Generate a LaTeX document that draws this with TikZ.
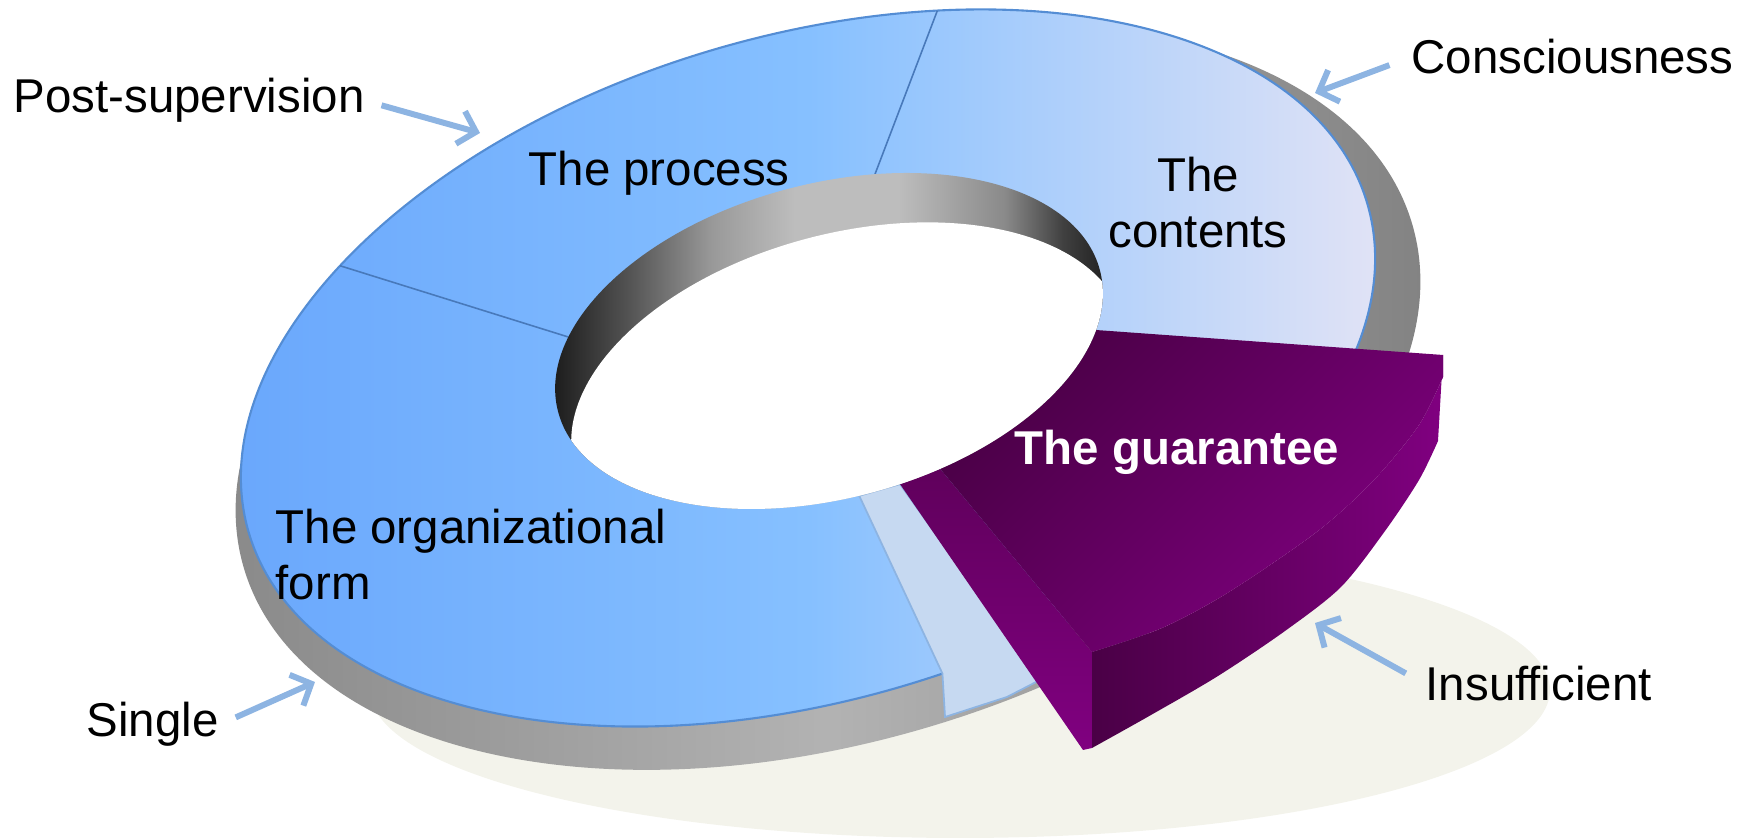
\documentclass[tikz,border=0pt]{standalone}
\usepackage{fontspec}
\setmainfont{Liberation Sans}
\usetikzlibrary{arrows.meta}

\definecolor{floorgray}{RGB}{243,243,235}
\definecolor{ringleft}{RGB}{104,166,252}
\definecolor{ringmid}{RGB}{134,192,255}
\definecolor{ringright}{RGB}{231,229,245}
\definecolor{ringedge}{RGB}{84,141,212}
\definecolor{divline}{RGB}{72,121,186}
\definecolor{paleblue}{RGB}{198,217,241}
\definecolor{paleedge}{RGB}{141,180,226}
\definecolor{plumdark}{RGB}{74,0,70}
\definecolor{plummid}{RGB}{96,0,92}
\definecolor{plum}{RGB}{128,0,128}

% inner wall of the hole: dark at both ends, light on the far side
\pgfdeclarehorizontalshading{innerwall}{100bp}{color(0bp)=(black!94); color(25bp)=(black!94);
  color(33bp)=(black!67); color(40bp)=(black!40); color(47bp)=(black!26);
  color(56bp)=(black!26); color(65bp)=(black!46); color(70bp)=(black!75);
  color(75bp)=(black!92); color(100bp)=(black!92)}

\newcommand{\lblfont}{\fontsize{13.5}{16.2}\selectfont}

\begin{document}
\begin{tikzpicture}[>={Straight Barb[length=4.6pt,width=9.6pt]},
  txt/.style={font=\lblfont, inner sep=0pt},
  pointer/.style={->, line width=1.7pt, paleedge},
  divider/.style={divline, line width=0.45pt}]
  \useasboundingbox (0,0) rectangle (17.52,8.38);

  % Floor shadow
  \fill[floorgray] (9.60,1.48) ellipse [x radius=5.90, y radius=1.48];

  % Side wall of the ring
  \shade[left color=black!47, right color=black!50, middle color=black!30,
         rotate around={16.4:(8.28,4.42)}]
    (8.28,4.42) ellipse [x radius=6.09, y radius=3.46];

  % Top face of the ring
  \shade[left color=ringleft, right color=ringright, middle color=ringmid,
         rotate around={16.4:(8.08,4.70)}]
    (8.08,4.70) ellipse [x radius=5.83, y radius=3.32];
  \draw[ringedge, line width=0.6pt, rotate around={16.4:(8.08,4.70)}]
    (8.08,4.70) ellipse [x radius=5.83, y radius=3.32];

  % Points on the outer and inner rims
  \begin{scope}[shift={(8.08,4.70)}, rotate=16.4]
    \coordinate (o1) at (67.3:5.83 and 3.32);
    \coordinate (o2) at (136.1:5.83 and 3.32);
    \coordinate (o3) at (-85.8:5.83 and 3.32);
  \end{scope}
  \begin{scope}[shift={(8.29,4.97)}, rotate=14.6]
    \coordinate (i1) at (72:2.80 and 1.575);
    \coordinate (i2) at (153.8:2.80 and 1.575);
    \coordinate (i3) at (-92:2.80 and 1.575);
    \coordinate (i4) at (-83.3:2.80 and 1.575);
    \coordinate (i5) at (-74.4:2.80 and 1.575);
    \coordinate (i6) at (-21.1:2.80 and 1.575);
  \end{scope}

  % Slice borders
  \draw[divider] (o1) -- (i1);
  \draw[divider] (o2) -- (i2);

  % Cut face left behind by the pulled-out slice
  \filldraw[fill=paleblue, draw=paleedge, line width=0.5pt]
    (i3) -- (o3) -- (9.45,1.21) -- (10.07,1.41) -- (10.40,1.58) -- (i4) -- cycle;

  % Pulled-out slice
  \coordinate (pB)  at (14.43,4.83);
  \coordinate (pB2) at (14.43,4.61);
  \coordinate (pK)  at (14.38,3.97);
  \coordinate (pC)  at (10.92,1.86);
  \coordinate (pE)  at (10.92,0.90);
  \coordinate (pF)  at (10.83,0.88);
  % radial face
  \shade[top color=plummid, bottom color=plum]
    (i4) -- (i5) -- (pC) -- (pE) -- (pF) -- cycle;
  % outer wall
  \shade[left color=plumdark, right color=plum]
    (pB) -- (pK)
    -- plot[smooth] coordinates {(14.38,3.97) (14.19,3.58) (13.85,3.07) (13.41,2.51)
                                 (12.85,2.07) (12.18,1.62) (11.51,1.23) (10.92,0.90)}
    -- (pC)
    -- plot[smooth] coordinates {(10.92,1.86) (11.62,2.10) (12.29,2.46) (13.18,3.07)
                                 (13.74,3.58) (14.19,4.13) (14.43,4.61)}
    -- cycle;
  % top face
  \shade[top color=plumdark, bottom color=plum, shading angle=45]
    (i5) -- (i6) -- (pB) -- (pB2)
    -- plot[smooth] coordinates {(14.43,4.61) (14.19,4.13) (13.74,3.58) (13.18,3.07)
                                 (12.29,2.46) (11.62,2.10) (10.92,1.86)}
    -- cycle;

  % Inner wall and the hole
  \shade[shading=innerwall, rotate around={14.6:(8.29,4.97)}]
    (8.29,4.97) ellipse [x radius=2.80, y radius=1.575];
  \begin{scope}
    \clip[rotate around={14.6:(8.29,4.97)}]
      (8.29,4.97) ellipse [x radius=2.80, y radius=1.575];
    \fill[white, rotate around={14.6:(8.49,4.45)}]
      (8.49,4.45) ellipse [x radius=2.84, y radius=1.60];
  \end{scope}

  % Slice names
  \node[txt, anchor=base west] (proc) at (5.28,6.52) {The process};
  \node[txt, align=center, anchor=base] (cont) at (11.98,5.90) {The\\contents};
  \node[txt, align=left, anchor=base west] (orgf) at (2.75,2.38) {The organizational\\form};
  \node[txt, font=\lblfont\bfseries, text=white, anchor=base west] (guar)
    at (10.14,3.73) {The guarantee};

  % Outer labels with pointers
  \node[txt, anchor=base west] (post) at (0.13,7.25) {Post-supervision};
  \node[txt, anchor=base west] (cons) at (14.11,7.64) {Consciousness};
  \node[txt, anchor=base west] (single) at (0.86,1.01) {Single};
  \node[txt, anchor=base west] (insuf) at (14.25,1.37) {Insufficient};

  \coordinate (postTip) at (4.80,7.05);
  \coordinate (consTip) at (13.15,7.45);
  \coordinate (singleTip) at (3.15,1.56);
  \coordinate (insufTip) at (13.15,2.15);
  \draw[pointer, shorten <=0.17cm] (post.east) -- (postTip);
  \draw[pointer, shorten <=0.23cm] (cons.west) -- (consTip);
  \draw[pointer, shorten <=0.18cm] (single.east) -- (singleTip);
  \draw[pointer, shorten <=0.22cm] (insuf.west) -- (insufTip);
\end{tikzpicture}
\end{document}
